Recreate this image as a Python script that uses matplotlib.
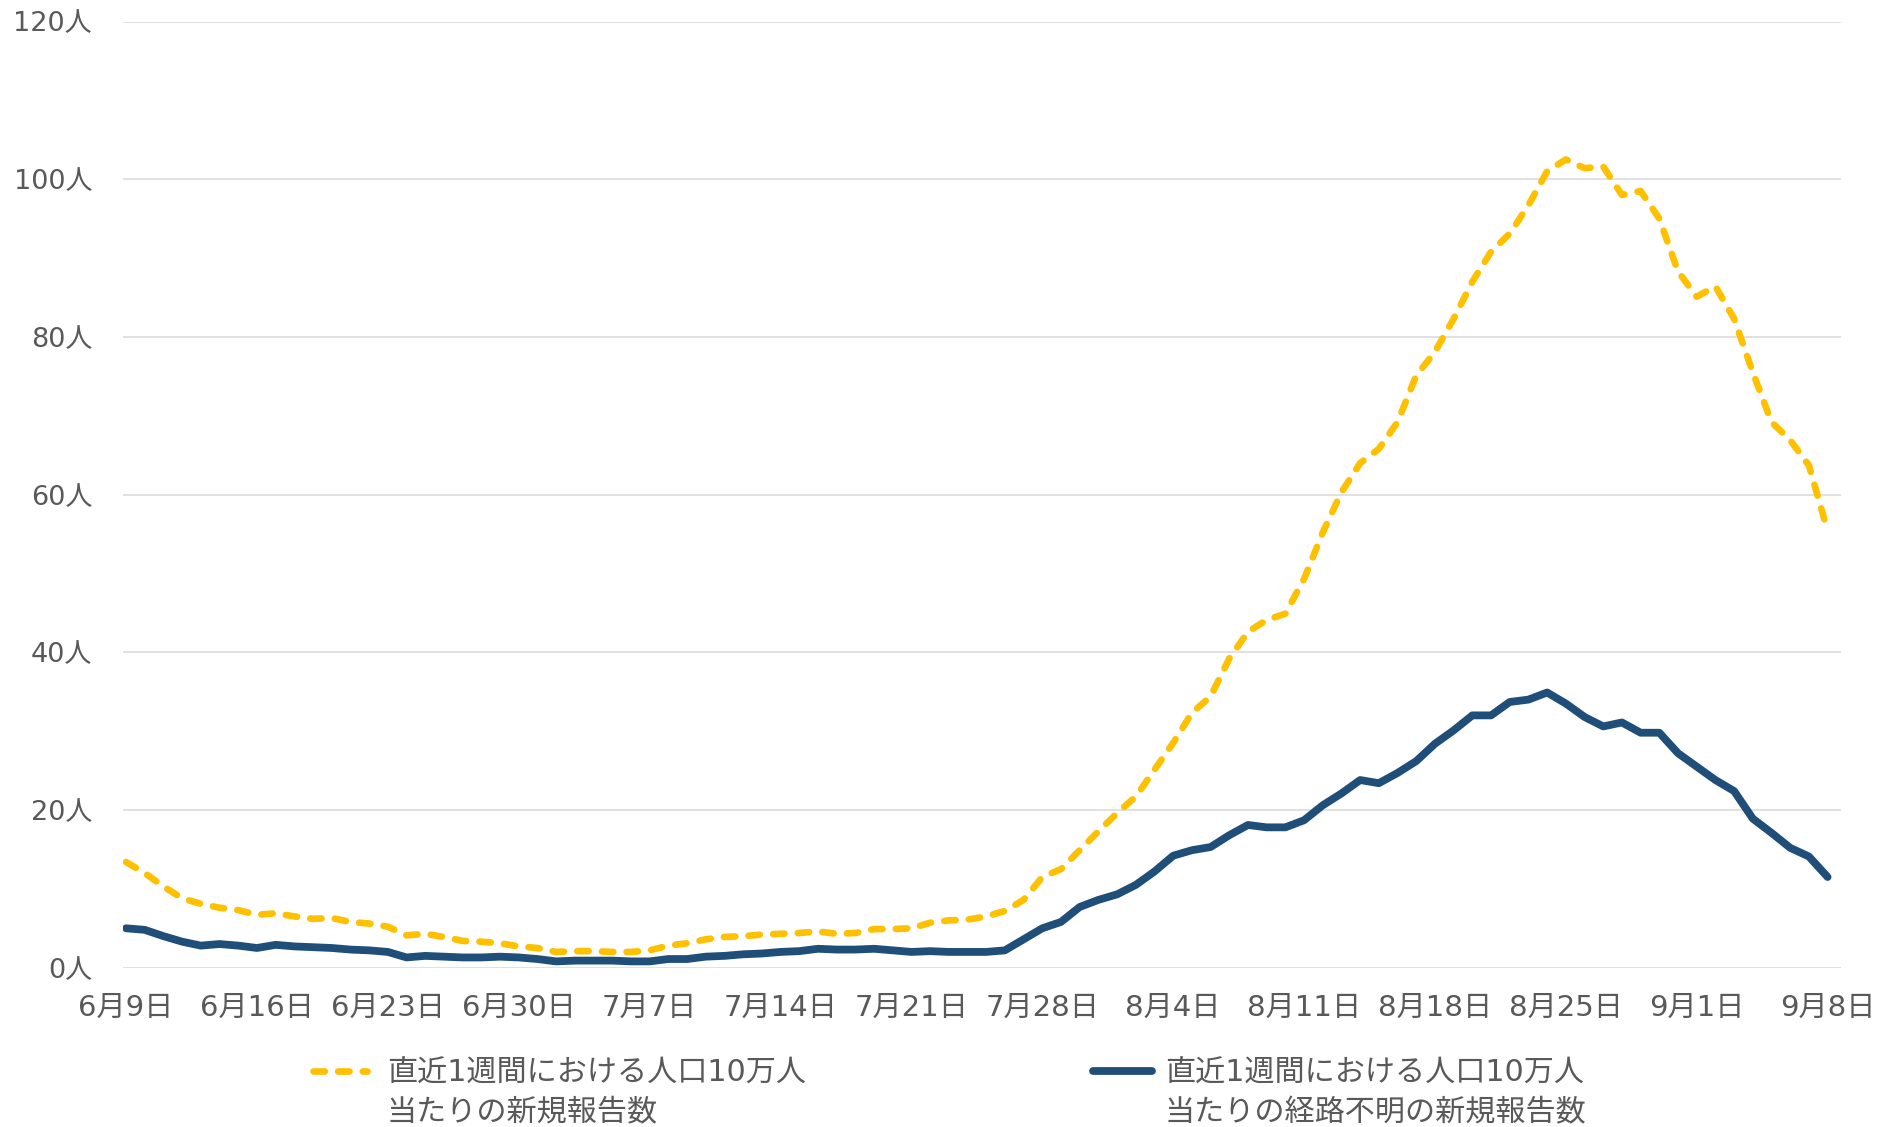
import matplotlib
matplotlib.use("Agg")
import matplotlib.pyplot as plt
from matplotlib.lines import Line2D
import pandas as pd

FONTS = ['DejaVu Sans', 'Noto Sans CJK JP']
plt.rcParams['font.family'] = FONTS

start_date = "2021-06-09"
end_date = "2021-09-08"

new_reports = [
    13.4, 12.0, 10.3, 8.8, 8.1, 7.6, 7.3, 6.7, 6.9, 6.5,
    6.2, 6.3, 5.8, 5.6, 5.2, 4.1, 4.3, 3.9, 3.4, 3.3,
    3.1, 2.7, 2.5, 2.0, 2.1, 2.1, 2.0, 2.0, 2.2, 2.8,
    3.1, 3.6, 3.9, 4.0, 4.2, 4.3, 4.4, 4.6, 4.3, 4.4,
    4.9, 4.9, 5.0, 5.7, 6.0, 6.1, 6.5, 7.2, 8.6, 11.5,
    12.5, 14.9, 17.3, 19.6, 21.7, 25.1, 28.5, 32.3, 34.4, 39.2,
    42.6, 44.1, 44.9, 49.3, 55.2, 60.3, 64.0, 65.8, 69.2, 75.1,
    78.1, 82.3, 87.0, 90.8, 93.1, 96.7, 101.0, 102.5, 101.4, 101.6,
    98.0, 98.5, 95.0, 88.3, 85.1, 86.4, 82.3, 75.5, 69.2, 66.9,
    63.7, 55.4,
]

unknown_route = [
    5.0, 4.8, 4.0, 3.3, 2.8, 3.0, 2.8, 2.5, 2.9, 2.7,
    2.6, 2.5, 2.3, 2.2, 2.0, 1.3, 1.5, 1.4, 1.3, 1.3,
    1.4, 1.3, 1.1, 0.8, 0.9, 0.9, 0.9, 0.8, 0.8, 1.1,
    1.1, 1.4, 1.5, 1.7, 1.8, 2.0, 2.1, 2.4, 2.3, 2.3,
    2.4, 2.2, 2.0, 2.1, 2.0, 2.0, 2.0, 2.2, 3.6, 5.0,
    5.8, 7.7, 8.6, 9.3, 10.5, 12.2, 14.2, 14.9, 15.3, 16.8,
    18.1, 17.8, 17.8, 18.7, 20.6, 22.1, 23.8, 23.4, 24.7, 26.2,
    28.4, 30.1, 32.0, 32.0, 33.7, 34.0, 34.9, 33.5, 31.8, 30.6,
    31.1, 29.8, 29.8, 27.2, 25.5, 23.8, 22.4, 18.9, 17.1, 15.2,
    14.1, 11.5,
]

y_ticks = [0, 20, 40, 60, 80, 100, 120]
label_new = "直近1週間における人口10万人\n当たりの新規報告数"
label_unknown = "直近1週間における人口10万人\n当たりの経路不明の新規報告数"

YELLOW = "#FFC000"
BLUE = "#1F4E79"
GRID = "#D9D9D9"
TEXT = "#595959"
DASH = (0, (1.7, 2.0))

dates = pd.date_range(start_date, end_date, freq="D")

W, H = 1899, 1127
fig = plt.figure(figsize=(W / 100, H / 100), dpi=100)
ax = fig.add_axes([122.7 / W, 1 - 967.7 / H, (1840.7 - 122.7) / W, (967.7 - 21.5) / H])

ax.plot(dates, new_reports, color=YELLOW, lw=4.8, linestyle=DASH,
        dash_capstyle="round", dash_joinstyle="round", zorder=3)
ax.plot(dates, unknown_route, color=BLUE, lw=5.6, solid_capstyle="round",
        solid_joinstyle="round", zorder=4)

ax.set_ylim(0, 120)
ax.set_yticks(y_ticks)
ax.set_yticklabels([f"{v}人" for v in y_ticks])
left = dates[0] - pd.Timedelta(hours=0.18 * 24)
right = dates[-1] + pd.Timedelta(hours=0.7 * 24)
ax.set_xlim(left, right)
ax.set_xticks(dates[::7])
ax.set_xticklabels([f"{d.month}月{d.day}日" for d in dates[::7]])

ax.grid(axis="y", color=GRID, lw=1.1)
ax.set_axisbelow(True)
for s in ax.spines.values():
    s.set_visible(False)
ax.tick_params(axis="both", length=0, colors=TEXT)
ax.tick_params(axis="y", pad=22, labelsize=19.5)
ax.tick_params(axis="x", pad=19, labelsize=21)

# legend drawn below the plot
def fx(px):
    return px / W

def fy(py):
    return 1 - py / H

y1, y2 = 1073, 1113
fig.add_artist(Line2D([fx(313), fx(367)], [fy(y1 - 2), fy(y1 - 2)], color=YELLOW, lw=4.8,
                      linestyle=DASH, dash_capstyle="round"))
fig.add_artist(Line2D([fx(1093), fx(1152)], [fy(y1 - 2), fy(y1 - 2)], color=BLUE, lw=5.6,
                      solid_capstyle="round"))
for x0, lab in [(387, label_new), (1165, label_unknown)]:
    l1, l2 = lab.split("\n")
    fig.text(fx(x0), fy(y1), l1, ha="left", va="center", fontsize=21.7, color=TEXT)
    fig.text(fx(x0), fy(y2), l2, ha="left", va="center", fontsize=21.7, color=TEXT)

fig.savefig("out.png", dpi=100, facecolor="white")
